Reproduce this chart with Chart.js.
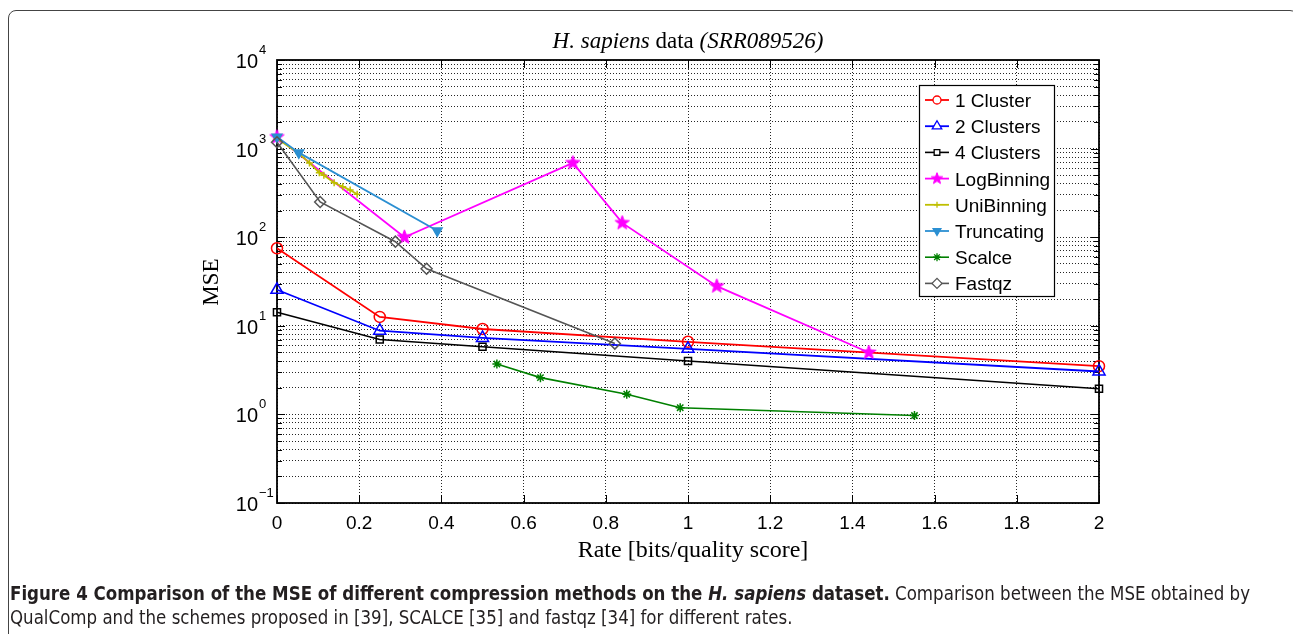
<!DOCTYPE html>
<html>
<head>
<meta charset="utf-8">
<script src="https://cdn.jsdelivr.net/npm/chart.js@4.4.0/dist/chart.umd.min.js"></script>
<style>
  html, body { margin: 0; padding: 0; background: #fff; width: 1293px; height: 634px; overflow: hidden; }
  #wrap { position: relative; width: 1293px; height: 634px; }
  #c { position: absolute; left: 0; top: 0; }
  #frame { position: absolute; left: 8px; top: 10px; width: 1290px; height: 700px; border: 1px solid #444; border-radius: 8px; box-sizing: border-box; }
  .cap { position: absolute; left: 10px; white-space: nowrap; font-family: "Liberation Sans Narrow", "DejaVu Sans Condensed", sans-serif; font-size: 19px; color: #231f20; transform-origin: 0 0; }
  #cap1 { top: 582px; }
  #cap2 { top: 606px; }
</style>
</head>
<body>
<div id="wrap">
  <div id="frame"></div>
  <canvas id="c" width="1293" height="634"></canvas>
  <div class="cap" id="cap1"><b>Figure 4 Comparison of the MSE of different compression methods on the <i>H. sapiens</i> dataset.</b> Comparison between the MSE obtained by</div>
  <div class="cap" id="cap2">QualComp and the schemes proposed in [39], SCALCE [35] and fastqz [34] for different rates.</div>
</div>
<script>
// ---------------- data ----------------
const cluster1X = [0, 0.25, 0.5, 1, 2];
const cluster1Y = [75, 12.6, 9.2, 6.6, 3.5];
const cluster2X = [0, 0.25, 0.5, 1, 2];
const cluster2Y = [25.5, 8.8, 7.3, 5.5, 3.05];
const cluster4X = [0, 0.25, 0.5, 1, 2];
const cluster4Y = [14.2, 7.0, 5.8, 4.0, 1.95];
const logBinX = [0, 0.31, 0.72, 0.84, 1.07, 1.44];
const logBinY = [1350, 100, 690, 145, 28, 5.0];
const uniBinX = [0, 0.053, 0.079, 0.103, 0.114, 0.139, 0.160, 0.178, 0.195];
const uniBinY = [1300, 880, 690, 535, 500, 412, 372, 341, 305];
const truncX = [0, 0.053, 0.39];
const truncY = [1350, 900, 118];
const scalceX = [0.535, 0.641, 0.851, 0.981, 1.551];
const scalceY = [3.7, 2.6, 1.69, 1.19, 0.97];
const fastqzX = [0, 0.105, 0.288, 0.364, 0.822];
const fastqzY = [1180, 250, 89, 44, 6.3];

const seriesNames = ['1 Cluster', '2 Clusters', '4 Clusters', 'LogBinning', 'UniBinning', 'Truncating', 'Scalce', 'Fastqz'];

const xTickValues = [0, 0.2, 0.4, 0.6, 0.8, 1, 1.2, 1.4, 1.6, 1.8, 2];
const xTickLabels = ['0', '0.2', '0.4', '0.6', '0.8', '1', '1.2', '1.4', '1.6', '1.8', '2'];
const yMajorTicks = [0.1, 1, 10, 100, 1000, 10000];
const yTickBase = ['10', '10', '10', '10', '10', '10'];
const yTickExp = ['\u22121', '0', '1', '2', '3', '4'];

const titleParts = [['H. sapiens', true], [' data ', false], ['(SRR089526)', true]];
const xTitle = 'Rate [bits/quality score]';
const yTitle = 'MSE';

// ---------------- helpers ----------------
function pts(xs, ys) { return xs.map((x, i) => ({ x: x, y: ys[i] })); }
function makeStar(r, color) {
  const s = Math.ceil(r * 2 + 4);
  const c = document.createElement('canvas');
  c.width = s; c.height = s;
  const g = c.getContext('2d');
  g.beginPath();
  for (let i = 0; i < 10; i++) {
    const a = -Math.PI / 2 + i * Math.PI / 5;
    const rr = i % 2 === 0 ? r : r * 0.42;
    g.lineTo(s / 2 + rr * Math.cos(a), s / 2 + rr * Math.sin(a));
  }
  g.closePath();
  g.fillStyle = color; g.fill();
  g.strokeStyle = color; g.lineWidth = 1; g.stroke();
  return c;
}
const starBig = makeStar(7.5, '#ff00ff');
const starSmall = makeStar(6, '#ff00ff');

const styles = [
  { color: '#ff0000', pointStyle: 'circle', radius: 5.5, fill: false, rot: 0, lw: 1.8, legR: 4 },
  { color: '#0000ff', pointStyle: 'triangle', radius: 7, fill: false, rot: 0, lw: 1.8, legR: 5.5 },
  { color: '#000000', pointStyle: 'rect', radius: 5, fill: false, rot: 0, lw: 1.6, legR: 4 },
  { color: '#ff00ff', pointStyle: starBig, legendStyle: starSmall, radius: 7, fill: true, rot: 0, lw: 1.8, legR: 6 },
  { color: '#bfbf00', pointStyle: 'cross', radius: 3.5, fill: false, rot: 0, lw: 1.8, legR: 3 },
  { color: '#2b8fd2', pointStyle: 'triangle', radius: 5.5, fill: true, rot: 180, lw: 1.8, legR: 4.5 },
  { color: '#008000', pointStyle: 'star', radius: 4.5, fill: false, rot: 0, lw: 1.6, legR: 4 },
  { color: '#555555', pointStyle: 'rectRot', radius: 5.5, fill: false, rot: 0, lw: 1.6, legR: 5 }
];
const seriesX = [cluster1X, cluster2X, cluster4X, logBinX, uniBinX, truncX, scalceX, fastqzX];
const seriesY = [cluster1Y, cluster2Y, cluster4Y, logBinY, uniBinY, truncY, scalceY, fastqzY];

const datasets = seriesNames.map((name, i) => {
  const s = styles[i];
  return {
    label: name,
    data: pts(seriesX[i], seriesY[i]),
    showLine: true,
    clip: false,
    borderColor: s.color,
    backgroundColor: s.fill ? s.color : 'rgba(255,255,255,0)',
    borderWidth: s.lw,
    pointStyle: s.pointStyle,
    pointRadius: s.radius,
    pointRotation: s.rot,
    pointBorderColor: s.color,
    pointBackgroundColor: s.fill ? s.color : 'rgba(255,255,255,0)',
    pointBorderWidth: 1.5,
    tension: 0,
    order: 20 - i
  };
});

const CA = { left: 277, top: 60, right: 1099, bottom: 503 };

const decorPlugin = {
  id: 'decor',
  beforeDatasetsDraw(chart) {
    const ctx = chart.ctx, ca = chart.chartArea;
    const xs = chart.scales.x, ys = chart.scales.y;
    ctx.save();
    // inward tick marks
    ctx.strokeStyle = '#000'; ctx.lineWidth = 1;
    ctx.beginPath();
    xs.ticks.forEach(t => {
      const px = Math.round(xs.getPixelForValue(t.value)) + 0.5;
      ctx.moveTo(px, ca.bottom); ctx.lineTo(px, ca.bottom - 8);
      ctx.moveTo(px, ca.top); ctx.lineTo(px, ca.top + 8);
    });
    ys.ticks.forEach(t => {
      const py = Math.round(ys.getPixelForValue(t.value)) + 0.5;
      const len = t.major ? 8 : 5;
      ctx.moveTo(ca.left, py); ctx.lineTo(ca.left + len, py);
      ctx.moveTo(ca.right, py); ctx.lineTo(ca.right - len, py);
    });
    ctx.stroke();
    // box
    ctx.lineWidth = 1.8;
    ctx.strokeRect(ca.left, ca.top, ca.right - ca.left, ca.bottom - ca.top);
    ctx.restore();
  },
  afterDraw(chart) {
    const ctx = chart.ctx, ca = chart.chartArea;
    const ys = chart.scales.y;
    ctx.save();
    // y tick labels with superscripts
    ctx.fillStyle = '#000';
    yMajorTicks.forEach((v, i) => {
      const py = ys.getPixelForValue(v);
      ctx.font = '20px "Liberation Sans", Arial, sans-serif';
      ctx.textAlign = 'right'; ctx.textBaseline = 'alphabetic';
      ctx.fillText(yTickBase[i], ca.left - 19, py + 8);
      ctx.font = '13px "Liberation Sans", Arial, sans-serif';
      ctx.textAlign = 'left';
      ctx.fillText(yTickExp[i], ca.left - 18, py - 6);
    });

    // title
    ctx.textBaseline = 'alphabetic';
    ctx.textAlign = 'left';
    const tFont = (it) => (it ? 'italic ' : '') + '23px "Liberation Serif", "DejaVu Serif", serif';
    let tw = 0;
    titleParts.forEach(p => { ctx.font = tFont(p[1]); tw += ctx.measureText(p[0]).width; });
    let tx = (ca.left + ca.right) / 2 - tw / 2;
    titleParts.forEach(p => { ctx.font = tFont(p[1]); ctx.fillText(p[0], tx, 48); tx += ctx.measureText(p[0]).width; });

    // x title
    ctx.font = '24px "Liberation Serif", "DejaVu Serif", serif';
    ctx.textAlign = 'center';
    ctx.fillText(xTitle, 693, 557);
    // y title
    ctx.save();
    ctx.translate(218, 282);
    ctx.rotate(-Math.PI / 2);
    ctx.font = '23px "Liberation Serif", "DejaVu Serif", serif';
    ctx.textAlign = 'center';
    ctx.fillText(yTitle, 0, 0);
    ctx.restore();

    // legend
    const lx = 919.5, ly = 85.5, lw = 135, lh = 211;
    ctx.fillStyle = '#fff';
    ctx.fillRect(lx, ly, lw, lh);
    ctx.strokeStyle = '#000'; ctx.lineWidth = 1.2;
    ctx.strokeRect(lx, ly, lw, lh);
    chart.data.datasets.forEach((ds, i) => {
      const s = styles[i];
      const ry = 100 + i * 26.2;
      ctx.strokeStyle = s.color; ctx.lineWidth = s.lw;
      ctx.beginPath(); ctx.moveTo(925, ry); ctx.lineTo(949, ry); ctx.stroke();
      ctx.fillStyle = s.fill ? s.color : '#fff';
      ctx.lineWidth = 1.3;
      Chart.helpers.drawPoint(ctx, { pointStyle: s.legendStyle || s.pointStyle, radius: s.legR, rotation: s.rot, borderWidth: 1.3 }, 937, ry);
      ctx.fillStyle = '#000';
      ctx.font = '19px "Liberation Sans", Arial, sans-serif';
      ctx.textAlign = 'left'; ctx.textBaseline = 'alphabetic';
      ctx.fillText(ds.label, 955, ry + 7);
    });
    ctx.restore();
  }
};

const gridStyle = { color: 'rgba(0,0,0,0.85)', lineWidth: 1, drawTicks: false };
const borderStyle = { display: false, dash: [1, 2] };

new Chart(document.getElementById('c'), {
  type: 'scatter',
  data: { datasets: datasets },
  options: {
    responsive: false,
    devicePixelRatio: 1,
    animation: false,
    layout: { padding: { left: CA.left, top: CA.top, right: 1293 - CA.right, bottom: 0 } },
    plugins: { legend: { display: false }, tooltip: { enabled: false }, title: { display: false } },
    scales: {
      x: {
        type: 'linear', min: 0, max: 2,
        afterBuildTicks: (s) => { s.ticks = xTickValues.map(v => ({ value: v })); },
        afterFit: (s) => { s.height = 634 - CA.bottom; },
        ticks: {
          autoSkip: false, maxRotation: 0, padding: 9, color: '#000',
          font: { family: '"Liberation Sans", Arial, sans-serif', size: 19 },
          callback: (v, i) => xTickLabels[i]
        },
        grid: gridStyle,
        border: borderStyle
      },
      y: {
        type: 'logarithmic', min: 0.1, max: 10000,
        afterBuildTicks: (s) => {
          const t = [];
          yMajorTicks.forEach((m, k) => {
            t.push({ value: m, major: true });
            if (k < yMajorTicks.length - 1) for (let j = 2; j <= 9; j++) t.push({ value: m * j, major: false });
          });
          s.ticks = t;
        },
        afterFit: (s) => { s.width = 0; },
        ticks: { display: false, autoSkip: false },
        grid: gridStyle,
        border: borderStyle
      }
    }
  },
  plugins: [decorPlugin]
});

// fit caption width to the reference line length
(function () {
  const c1 = document.getElementById('cap1'), c2 = document.getElementById('cap2');
  const w = c1.getBoundingClientRect().width;
  const k = 1240 / w;
  c1.style.transform = 'scaleX(' + k + ')';
  c2.style.transform = 'scaleX(' + k + ')';
})();
</script>
</body>
</html>
